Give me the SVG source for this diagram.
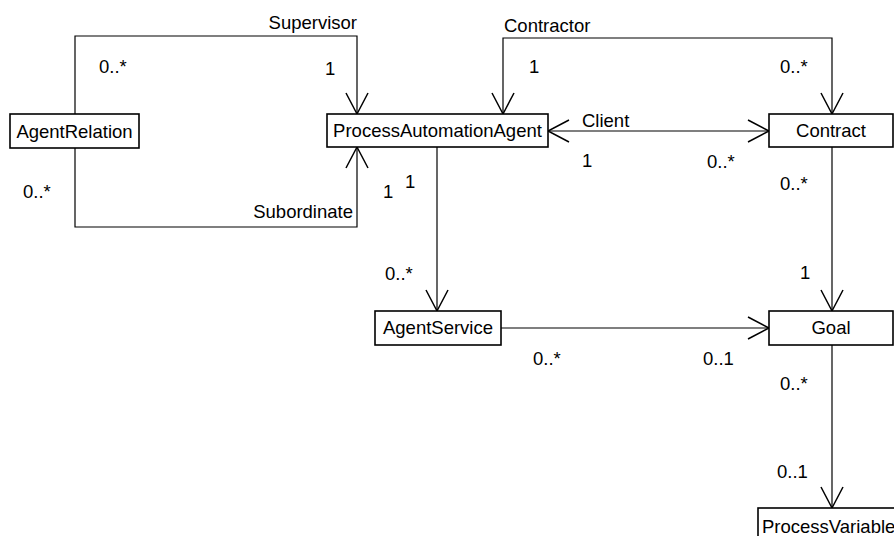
<svg xmlns="http://www.w3.org/2000/svg" width="894" height="536" viewBox="0 0 894 536">
  <style>
    .box { fill: #ffffff; stroke: #000000; stroke-width: 1.6; }
    .name { font-family: "Liberation Sans", Arial, sans-serif; font-size: 18.5px; fill: #000000; text-anchor: middle; }
    .lbl { font-family: "Liberation Sans", Arial, sans-serif; font-size: 18.5px; fill: #000000; }
    .edge { fill: none; stroke: #000000; stroke-width: 1.2; }
  </style>
  <defs>
    <marker id="open" markerUnits="userSpaceOnUse" markerWidth="26" markerHeight="26" refX="0" refY="0" viewBox="-23 -13 26 26" orient="auto-start-reverse" overflow="visible">
      <path d="M-21,-11 L0,0 L-21,11" fill="none" stroke="#000000" stroke-width="1.5"/>
    </marker>
  </defs>
  <rect width="894" height="536" fill="#ffffff"/>

  <g id="connectors">
    <!-- Supervisor -->
    <polyline class="edge" points="75,114 75,36 357,36 357,114" marker-end="url(#open)"/>
    <!-- Subordinate -->
    <polyline class="edge" points="75,148 75,227 357,227 357,147" marker-end="url(#open)"/>
    <!-- Contractor -->
    <polyline class="edge" points="503,114 503,38 832,38 832,114" marker-start="url(#open)" marker-end="url(#open)"/>
    <!-- Client -->
    <line class="edge" x1="548" y1="131" x2="769" y2="131" marker-start="url(#open)" marker-end="url(#open)"/>
    <!-- agent to service -->
    <line class="edge" x1="437" y1="147" x2="437" y2="311" marker-end="url(#open)"/>
    <!-- service to goal -->
    <line class="edge" x1="501" y1="328" x2="769" y2="328" marker-end="url(#open)"/>
    <!-- contract to goal -->
    <line class="edge" x1="832" y1="147" x2="832" y2="311" marker-end="url(#open)"/>
    <!-- goal to process variable -->
    <line class="edge" x1="832" y1="345" x2="832" y2="508" marker-end="url(#open)"/>

    <text class="lbl" x="357" y="29" text-anchor="end">Supervisor</text>
    <text class="lbl" x="99" y="73">0..*</text>
    <text class="lbl" x="325" y="75">1</text>
    <text class="lbl" x="353" y="218" text-anchor="end">Subordinate</text>
    <text class="lbl" x="23" y="198">0..*</text>
    <text class="lbl" x="383" y="198">1</text>
    <text class="lbl" x="504" y="32">Contractor</text>
    <text class="lbl" x="529" y="73">1</text>
    <text class="lbl" x="780" y="73">0..*</text>
    <text class="lbl" x="582" y="127">Client</text>
    <text class="lbl" x="582" y="167">1</text>
    <text class="lbl" x="707" y="168">0..*</text>
    <text class="lbl" x="405" y="188">1</text>
    <text class="lbl" x="385" y="280">0..*</text>
    <text class="lbl" x="533" y="365">0..*</text>
    <text class="lbl" x="703" y="365">0..1</text>
    <text class="lbl" x="780" y="190">0..*</text>
    <text class="lbl" x="800" y="279">1</text>
    <text class="lbl" x="780" y="390">0..*</text>
    <text class="lbl" x="777" y="478">0..1</text>
  </g>

  <g id="AgentRelation">
    <rect class="box" x="10" y="114" width="129" height="34"/>
    <text class="name" x="74.5" y="138">AgentRelation</text>
  </g>
  <g id="ProcessAutomationAgent">
    <rect class="box" x="327" y="114" width="221" height="33"/>
    <text class="name" x="437.5" y="137">ProcessAutomationAgent</text>
  </g>
  <g id="Contract">
    <rect class="box" x="769" y="114" width="124" height="33"/>
    <text class="name" x="831" y="137">Contract</text>
  </g>
  <g id="AgentService">
    <rect class="box" x="375" y="311" width="126" height="34"/>
    <text class="name" x="438" y="334">AgentService</text>
  </g>
  <g id="Goal">
    <rect class="box" x="769" y="311" width="124" height="34"/>
    <text class="name" x="831" y="334">Goal</text>
  </g>
  <g id="ProcessVariable">
    <rect class="box" x="758" y="508" width="146" height="40"/>
    <text class="lbl" x="762" y="533">ProcessVariable</text>
  </g>
</svg>
